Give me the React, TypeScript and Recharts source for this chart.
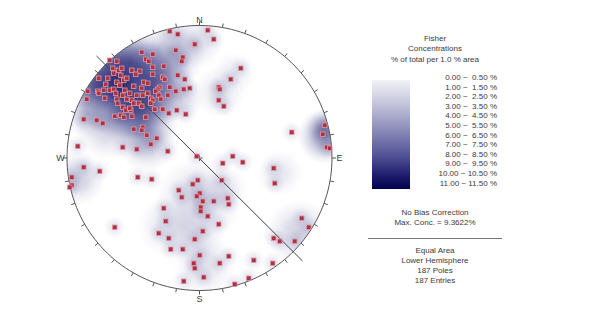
import React from "react"
import { ScatterChart, Scatter, XAxis, YAxis } from "recharts"

// projection coordinates (east, north), net radius = 132.5
const NET_R = 132.5
const X_MIN = -199.5
const X_MAX = 398.5
const Y_MIN = -159
const Y_MAX = 158
const W = 598
const H = 317
const PX = W / (X_MAX - X_MIN)

// poles to planes
const poles = [
  [-30, 127], [-22, 124], [8, 128], [14, 119], [-5, 114], [-24, 108], [-58, 106], [-47, 104],
  [-17, 101], [-18, 97], [-54, 99], [-51, 97], [-90, 98], [-83, 97], [-87, 90], [-81, 88],
  [-86, 85], [-68, 88], [-60, 87], [-47, 91], [-47, 84], [-36, 92], [41, 90], [-22, 83],
  [-15, 79], [-37, 81], [-35, 79], [-101, 80], [-79, 83], [-76, 78], [-73, 80], [31, 79],
  [-83, 76], [-80, 73], [-94, 74], [-56, 76], [-52, 75], [19, 71], [20, 69], [-40, 71],
  [-42, 69], [-44, 67], [-30, 71], [-24, 67], [-16, 69], [-10, 70], [-112, 67], [-113, 59],
  [-102, 67], [-96, 68], [-101, 65], [-90, 68], [-86, 69], [-84, 65], [-75, 68], [-77, 63],
  [-70, 65], [-63, 63], [-57, 63], [-52, 65], [-49, 60], [-47, 58], [-41, 63], [-39, 59],
  [-32, 63], [-83, 59], [-82, 55], [-73, 59], [-68, 58], [-66, 55], [-61, 55], [-58, 52],
  [-49, 55], [-45, 49], [-37, 49], [-77, 51], [-74, 48], [-69, 48], [-70, 50], [19, 58],
  [24, 52], [-23, 48], [-14, 44], [-31, 45], [-79, 43], [-76, 41], [-85, 42], [-68, 42],
  [-54, 41], [-116, 39], [-103, 38], [-97, 35], [-66, 29], [-57, 31], [-58, 28], [-53, 23],
  [-43, 20], [-49, 14], [-77, 11], [-63, 9], [-122, 12], [-32, 7], [-3, 2], [33, 2],
  [92, 26], [125, 33], [123, 24], [127, 11], [130, 10], [23, -5], [43, -4], [-116, -9],
  [-100, -13], [74, -10], [75, -25], [-128, -19], [-128, -27], [-130, -29], [-62, -19], [-48, -21],
  [-2, -22], [-7, -26], [22, -22], [-21, -32], [-18, -39], [0, -35], [-3, -38], [3, -43],
  [14, -43], [28, -40], [29, -46], [1, -49], [1, -53], [-36, -50], [8, -58], [102, -60],
  [109, -69], [-34, -63], [19, -66], [-85, -69], [3, -73], [-41, -75], [-31, -80], [-5, -81],
  [74, -80], [80, -83], [95, -83], [-29, -91], [-17, -91], [0, -97], [29, -98], [54, -102],
  [-6, -105], [-5, -110], [20, -105], [73, -105], [4, -119], [-16, -123], [49, -120], [35, -126],
  [-64, 84], [-92, 80], [-66, 72], [-58, 70], [-95, 60], [-78, 90],
]

// density field approximated by smooth kernels: east, north, radius, weight
const densityKernels = [
  [-75, 72, 54, 0.75], [-65, 62, 44, 0.75], [-88, 82, 38, 0.7], [-45, 80, 38, 0.5],
  [-104, 72, 32, 0.5], [-70, 96, 36, 0.5], [-80, 72, 28, 0.7], [-58, 40, 38, 0.4],
  [-52, 16, 30, 0.28], [-28, 104, 34, 0.34], [-2, 116, 26, 0.16], [-92, 30, 32, 0.22],
  [-112, 44, 24, 0.26], [126, 22, 28, 0.5], [124, 30, 18, 0.3], [0, -42, 44, 0.2],
  [-30, -68, 32, 0.14], [5, -108, 32, 0.14], [100, -75, 34, 0.22], [-122, -20, 28, 0.24],
  [20, 66, 26, 0.14], [35, 85, 22, 0.1], [80, -15, 24, 0.12], [-5, -80, 30, 0.14],
  [25, -30, 24, 0.1], [-20, 60, 24, 0.22],
]

const greatCircle = [
  [-103, 102], [103, -103],
]

const compass = [
  ["N", 0, 138], ["E", 140, 0], ["S", 0, -141], ["W", -139, 0],
]

const legendTitle = ["Fisher", "Concentrations", "% of total per 1.0 % area"]
const binLabels = [
  "0.00 ~  0.50 %", "1.00 ~  1.50 %", "2.00 ~  2.50 %", "3.00 ~  3.50 %",
  "4.00 ~  4.50 %", "5.00 ~  5.50 %", "6.00 ~  6.50 %", "7.00 ~  7.50 %",
  "8.00 ~  8.50 %", "9.00 ~  9.50 %", "10.00 ~ 10.50 %", "11.00 ~ 11.50 %",
]
const infoTop = ["No Bias Correction", "Max. Conc. = 9.3622%"]
const infoBottom = ["Equal Area", "Lower Hemisphere", "187 Poles", "187 Entries"]

const poleData = poles.map(([x, y]) => ({ x, y }))
const kernelData = densityKernels.map(([x, y, r, a]) => ({ x, y, r, a }))
const lineData = greatCircle.map(([x, y]) => ({ x, y }))
const compassData = compass.map(([t, x, y]) => ({ t, x, y }))

const rad = (d: number) => (d * Math.PI) / 180
const frameData = Array.from({ length: 181 }, (_, i) => ({
  x: NET_R * Math.sin(rad(i * 2)),
  y: NET_R * Math.cos(rad(i * 2)),
}))
const tickData = Array.from({ length: 36 }, (_, i) => ({
  az: i * 10,
  x: NET_R * Math.sin(rad(i * 10)),
  y: NET_R * Math.cos(rad(i * 10)),
}))

const FONT = "'Liberation Sans', Arial, sans-serif"
const TEXT = "#3a3a3a"

const Empty = () => <g />

const KernelShape = (p: any) => (
  <g clipPath="url(#netClip)">
    <circle cx={p.cx} cy={p.cy} r={p.payload.r * PX} fill="url(#kernel)" opacity={p.payload.a} />
  </g>
)

const HaloShape = (p: any) => (
  <g clipPath="url(#netClip)">
    <circle cx={p.cx} cy={p.cy} r={11} fill="url(#halo)" />
  </g>
)

const TickShape = (p: any) => {
  const a = rad(p.payload.az)
  return (
    <line
      x1={p.cx}
      y1={p.cy}
      x2={p.cx + 4 * Math.sin(a)}
      y2={p.cy - 4 * Math.cos(a)}
      stroke="#555"
      strokeWidth={1}
    />
  )
}

const CrossShape = (p: any) => (
  <g stroke="#555" strokeWidth={1}>
    <line x1={p.cx - 3} y1={p.cy} x2={p.cx + 3} y2={p.cy} />
    <line x1={p.cx} y1={p.cy - 3} x2={p.cx} y2={p.cy + 3} />
  </g>
)

const PoleShape = (p: any) => (
  <rect x={p.cx - 2} y={p.cy - 2} width={4.5} height={4.5} fill="#a83446" stroke="#e29aa6" strokeWidth={0.8} />
)

const CompassShape = (p: any) => (
  <text
    x={p.cx}
    y={p.cy}
    textAnchor="middle"
    dominantBaseline="central"
    fontFamily={FONT}
    fontSize={9}
    fill={TEXT}
  >
    {p.payload.t}
  </text>
)

function Txt({ x, y, children, align = "center" }: any) {
  const tx = align === "center" ? "-50%" : align === "right" ? "-100%" : "0"
  return (
    <div
      style={{
        position: "absolute",
        left: x,
        top: y,
        transform: `translate(${tx}, -50%)`,
        fontFamily: FONT,
        fontSize: 8,
        lineHeight: "9px",
        color: TEXT,
        whiteSpace: "pre",
      }}
    >
      {children}
    </div>
  )
}

export default function App() {
  return (
    <div style={{ position: "absolute", left: 0, top: 0, width: W, height: H, background: "#fff" }}>
      <ScatterChart width={W} height={H} margin={{ top: 0, right: 0, bottom: 0, left: 0 }}>
        <defs>
          <clipPath id="netClip">
            <circle cx={(0 - X_MIN) * PX} cy={(Y_MAX - 0) * PX} r={NET_R * PX} />
          </clipPath>
          <radialGradient id="kernel">
            <stop offset="0%" stopColor="#1a1a64" stopOpacity={1} />
            <stop offset="40%" stopColor="#2e2e7a" stopOpacity={0.7} />
            <stop offset="75%" stopColor="#5c5c9c" stopOpacity={0.28} />
            <stop offset="100%" stopColor="#8080b4" stopOpacity={0} />
          </radialGradient>
          <radialGradient id="halo">
            <stop offset="0%" stopColor="#c4c6dc" stopOpacity={0.6} />
            <stop offset="100%" stopColor="#d6d8e8" stopOpacity={0} />
          </radialGradient>
        </defs>
        <XAxis type="number" dataKey="x" domain={[X_MIN, X_MAX]} allowDataOverflow hide />
        <YAxis type="number" dataKey="y" domain={[Y_MIN, Y_MAX]} allowDataOverflow hide />
        <Scatter data={poleData} shape={HaloShape} isAnimationActive={false} />
        <Scatter data={kernelData} shape={KernelShape} isAnimationActive={false} />
        <Scatter
          data={frameData}
          shape={Empty}
          line={{ stroke: "#555", strokeWidth: 1 }}
          isAnimationActive={false}
        />
        <Scatter data={tickData} shape={TickShape} isAnimationActive={false} />
        <Scatter
          data={lineData}
          shape={Empty}
          line={{ stroke: "#444", strokeWidth: 1 }}
          isAnimationActive={false}
        />
        <Scatter data={[{ x: 0, y: 0 }]} shape={CrossShape} isAnimationActive={false} />
        <Scatter data={poleData} shape={PoleShape} isAnimationActive={false} />
        <Scatter data={compassData} shape={CompassShape} isAnimationActive={false} />
      </ScatterChart>

      {legendTitle.map((t, i) => (
        <Txt key={t} x={435} y={38 + i * 10.4}>{t}</Txt>
      ))}
      <div
        style={{
          position: "absolute",
          left: 372,
          top: 80,
          width: 38,
          height: 109,
          background: "linear-gradient(#f2f2f7 0%, #c8c8de 20%, #8e8eba 45%, #505094 70%, #1c1c6c 88%, #00004c 100%)",
        }}
      />
      {binLabels.map((t, i) => (
        <Txt key={t} x={497} y={77 + i * 9.6} align="right">{t}</Txt>
      ))}
      {infoTop.map((t, i) => (
        <Txt key={t} x={435} y={212 + i * 9.8}>{t}</Txt>
      ))}
      <div style={{ position: "absolute", left: 368, top: 237.5, width: 134, height: 1.5, background: "#777" }} />
      {infoBottom.map((t, i) => (
        <Txt key={t} x={435} y={249.7 + i * 10.1}>{t}</Txt>
      ))}
    </div>
  )
}
